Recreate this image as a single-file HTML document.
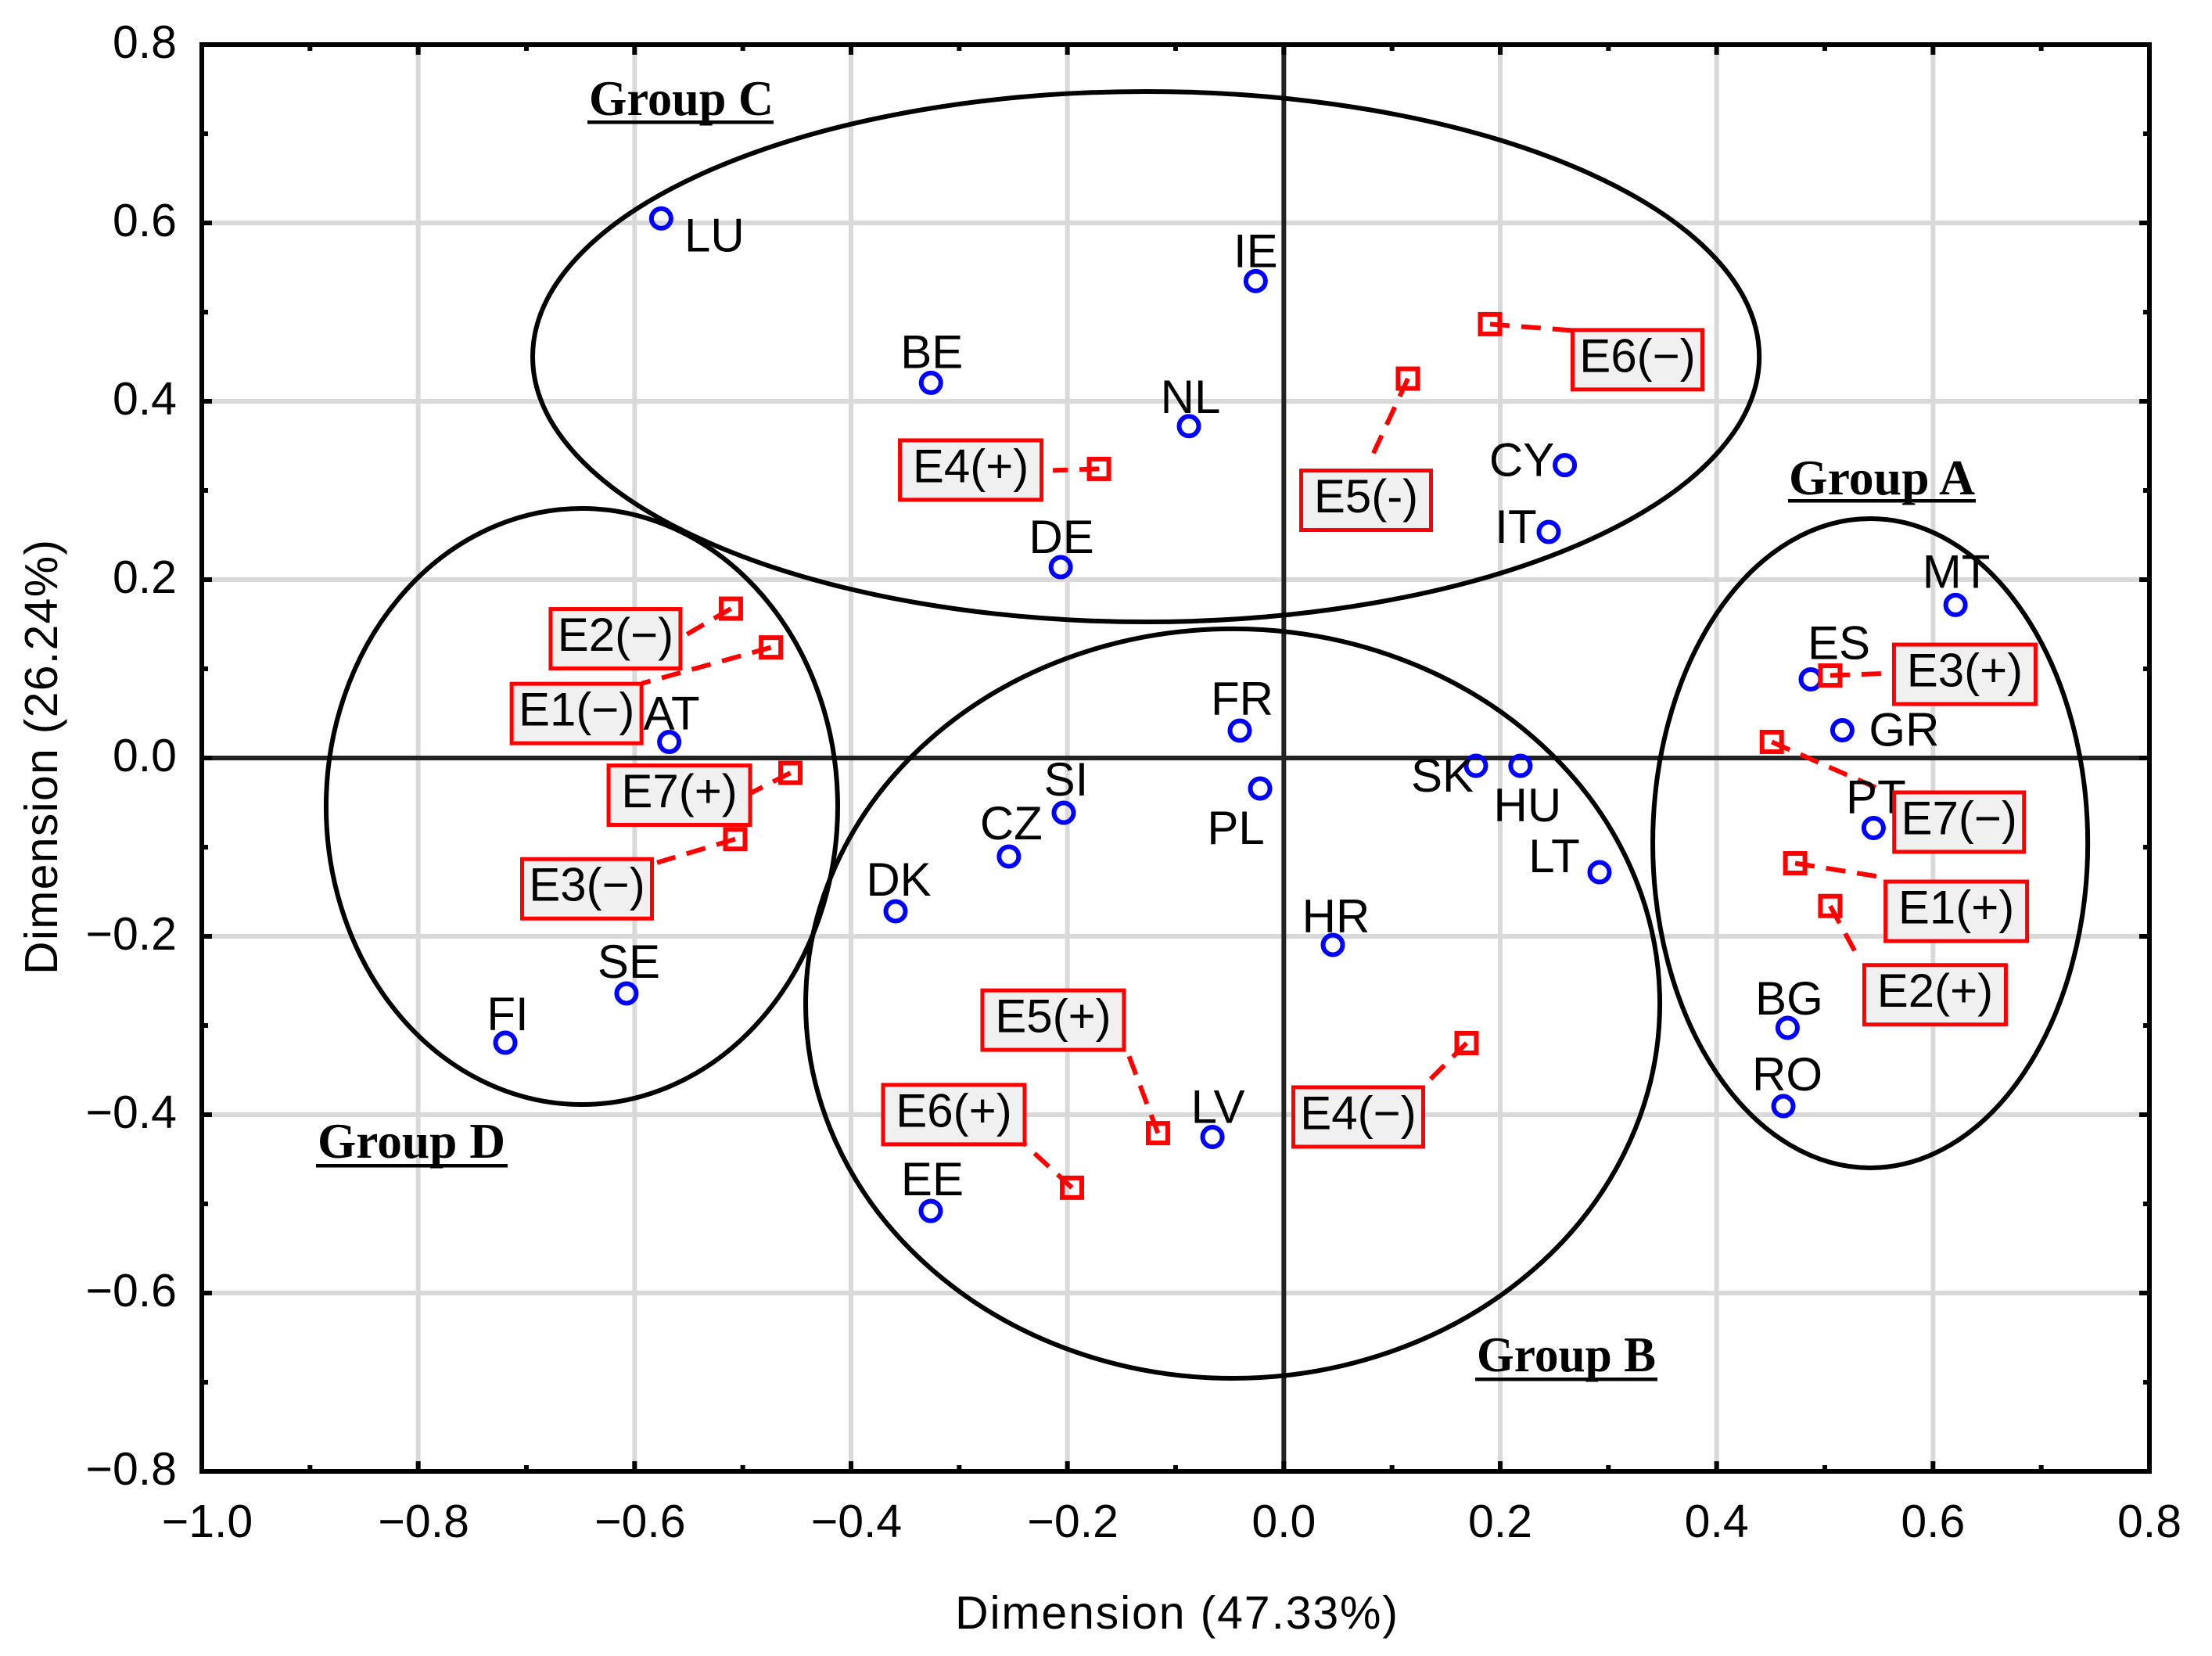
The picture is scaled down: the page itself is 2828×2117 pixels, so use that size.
<!DOCTYPE html>
<html lang="en">
<head>
<meta charset="utf-8">
<title>Correspondence analysis map</title>
<style>
html,body{margin:0;padding:0;background:#fff;}
svg{display:block;}
text{font-family:"Liberation Sans",Arial,sans-serif;fill:#000;}
.group-label{font-family:"Liberation Serif","Times New Roman",serif;font-weight:bold;font-size:63px;}
</style>
</head>
<body>
<svg id="chart" xmlns="http://www.w3.org/2000/svg" width="2828" height="2117" viewBox="0 0 2828 2117">
  <rect x="0" y="0" width="2828" height="2117" fill="#fff"/>
  <g id="grid"></g>
  <g id="zero"></g>
  <g id="ellipses"></g>
  <g id="leaders"></g>
  <g id="countries"></g>
  <g id="effects"></g>
  <g id="boxes"></g>
  <g id="frame"></g>
  <g id="ticklabels"></g>

  <text x="1504" y="2082" font-size="59" text-anchor="middle" textLength="566" lengthAdjust="spacing">Dimension (47.33%)</text>
  <text transform="translate(73 968) rotate(-90)" font-size="59" text-anchor="middle" textLength="556" lengthAdjust="spacing">Dimension (26.24%)</text>

  <g>
    <text class="group-label" x="2287" y="632" textLength="238" lengthAdjust="spacingAndGlyphs">Group A</text>
    <rect x="2286" y="638" width="240" height="4.5" fill="#000"/>
  </g>
  <g>
    <text class="group-label" x="1888" y="1753" textLength="229" lengthAdjust="spacingAndGlyphs">Group B</text>
    <rect x="1886" y="1761" width="233" height="4.5" fill="#000"/>
  </g>
  <g>
    <text class="group-label" x="753" y="147" textLength="236" lengthAdjust="spacingAndGlyphs">Group C</text>
    <rect x="751" y="154" width="238" height="4.5" fill="#000"/>
  </g>
  <g>
    <text class="group-label" x="406" y="1480" textLength="240" lengthAdjust="spacingAndGlyphs">Group D</text>
    <rect x="404" y="1488" width="245" height="4.5" fill="#000"/>
  </g>
</svg>
<script>
// ---- chart data ----
const xTickValues = [-1.0,-0.8,-0.6,-0.4,-0.2,0.0,0.2,0.4,0.6,0.8];
const xTickLabels = ["\u22121.0","\u22120.8","\u22120.6","\u22120.4","\u22120.2","0.0","0.2","0.4","0.6","0.8"];
const yTickValues = [0.8,0.6,0.4,0.2,0.0,-0.2,-0.4,-0.6,-0.8];
const yTickLabels = ["0.8","0.6","0.4","0.2","0.0","\u22120.2","\u22120.4","\u22120.6","\u22120.8"];

const countryCodes = ["LU","IE","BE","NL","CY","IT","DE","MT","ES","GR","AT","FR","SK","HU","PL","SI","PT","CZ","LT","DK","HR","SE","FI","BG","RO","LV","EE"];
const countryDim1 = [-0.5754,-0.0260,-0.3261,-0.0877,0.2597,0.2448,-0.2062,0.6208,0.4870,0.5162,-0.568,-0.0407,0.1776,0.2187,-0.0219,-0.2034,0.5451,-0.2541,0.2918,-0.3588,0.0453,-0.6075,-0.7195,0.4656,0.4617,-0.0660,-0.3263];
const countryDim2 = [0.605,0.5348,0.4207,0.3721,0.3284,0.2535,0.214,0.1716,0.0882,0.0311,0.018,0.0307,-0.0088,-0.0088,-0.0342,-0.0614,-0.0785,-0.1105,-0.1281,-0.1719,-0.2096,-0.264,-0.3193,-0.3026,-0.3904,-0.425,-0.508];

const effectNames = ["E1(\u2212)","E1(+)","E2(\u2212)","E2(+)","E3(\u2212)","E3(+)","E4(\u2212)","E4(+)","E5(-)","E5(+)","E6(\u2212)","E6(+)","E7(\u2212)","E7(+)"];
const effectDim1 = [-0.474,0.4726,-0.511,0.505,-0.507,0.505,0.1689,-0.1708,0.1147,-0.1163,0.1906,-0.1958,0.451,-0.456];
const effectDim2 = [0.124,-0.118,0.1675,-0.166,-0.091,0.0925,-0.3197,0.3242,0.4254,-0.4207,0.4865,-0.4819,0.018,-0.0167];

const groupNames = ["c","d","b","a"];
const groupCentreDim1 = [-0.1274,-0.6487,-0.0472,0.5420];
const groupCentreDim2 = [0.45,-0.0544,-0.2754,-0.0956];
const groupRadiusDim1 = [0.5668,0.2364,0.3947,0.2010];
const groupRadiusDim2 = [0.2974,0.3342,0.4202,0.3640];

// ---- axis functions ----
const plotLeft = 258, plotRight = 2748, plotTop = 57, plotBottom = 1881;
const xMin = -1.0, xMax = 0.8, yMin = -0.8, yMax = 0.8;
const xScale = (plotRight - plotLeft) / (xMax - xMin);
const yScale = (plotBottom - plotTop) / (yMax - yMin);
function xAxis(v) { return plotLeft + (v - xMin) * xScale; }
function yAxis(v) { return plotTop + (yMax - v) * yScale; }

// ---- annotation placement relative to marks (layout only) ----
function countryLabelShift(code) {
  switch (code) {
    case "LU": return {dx:68,dy:42};
    case "IE": return {dx:0,dy:-18};
    case "BE": return {dx:1,dy:-19};
    case "NL": return {dx:2,dy:-17};
    case "CY": return {dx:-55,dy:14};
    case "IT": return {dx:-42,dy:14};
    case "DE": return {dx:1,dy:-18};
    case "MT": return {dx:1,dy:-22};
    case "ES": return {dx:36,dy:-26};
    case "GR": return {dx:79,dy:20};
    case "AT": return {dx:3,dy:-16};
    case "FR": return {dx:3,dy:-20};
    case "SK": return {dx:-43,dy:33};
    case "HU": return {dx:9,dy:71};
    case "PL": return {dx:-31,dy:71};
    case "SI": return {dx:3,dy:-22};
    case "PT": return {dx:3,dy:-19};
    case "CZ": return {dx:3,dy:-22};
    case "LT": return {dx:-58,dy:0};
    case "DK": return {dx:4,dy:-20};
    case "HR": return {dx:4,dy:-16};
    case "SE": return {dx:3,dy:-20};
    case "FI": return {dx:3,dy:-16};
    case "BG": return {dx:2,dy:-17};
    case "RO": return {dx:5,dy:-20};
    case "LV": return {dx:7,dy:-18};
    default: return {dx:2,dy:-20};
  }
}
function effectLabelShift(name) {
  switch (name.slice(0,2) + (name.indexOf("+") >= 0 ? "p" : "m")) {
    case "E1m": return {bx:-334,by:44,ex:-165,ey:46};
    case "E1p": return {bx:113,by:21,ex:106,ey:17};
    case "E2m": return {bx:-233,by:-2,ex:-60,ey:35};
    case "E2p": return {bx:41,by:73,ex:36,ey:66};
    case "E3m": return {bx:-275,by:23,ex:-100,ey:30};
    case "E3p": return {bx:79,by:-42,ex:66,ey:-2.5};
    case "E4m": return {bx:-224,by:54,ex:-56,ey:56};
    case "E4p": return {bx:-257,by:-39,ex:-59,ey:2};
    case "E5m": return {bx:-139,by:115,ex:-49,ey:106};
    case "E5p": return {bx:-227,by:-185,ex:-38,ey:-101};
    case "E6m": return {bx:103,by:5,ex:104,ey:8};
    case "E6p": return {bx:-244,by:-134,ex:-60,ey:-55};
    case "E7m": return {bx:154,by:62,ex:146,ey:64};
    default:    return {bx:-235,by:-12,ex:-55,ey:28};
  }
}

// ---- drawing ----
const NS = "http://www.w3.org/2000/svg";
function make(parentId, tag, attrs) {
  const el = document.createElementNS(NS, tag);
  for (const k in attrs) el.setAttribute(k, attrs[k]);
  document.getElementById(parentId).appendChild(el);
  return el;
}

// gridlines
xTickValues.forEach(function (v) {
  if (v === 0 || v === xMin || v === xMax) return;
  const el = make("grid", "line", {x1:xAxis(v),x2:xAxis(v),y1:plotTop,y2:plotBottom,stroke:"#d9d9d9","stroke-width":6});
  
  
});
yTickValues.forEach(function (v) {
  if (v === 0 || v === yMin || v === yMax) return;
  const el = make("grid", "line", {x1:plotLeft,x2:plotRight,y1:yAxis(v),y2:yAxis(v),stroke:"#d9d9d9","stroke-width":6});
  
  
});

// zero lines
const zeroX = make("zero", "line", {x1:xAxis(0),x2:xAxis(0),y1:plotTop,y2:plotBottom,stroke:"#222","stroke-width":6});


const zeroY = make("zero", "line", {x1:plotLeft,x2:plotRight,y1:yAxis(0),y2:yAxis(0),stroke:"#222","stroke-width":6});



// group ellipses
groupNames.forEach(function (g, i) {
  const el = make("ellipses", "ellipse", {
    cx: xAxis(groupCentreDim1[i]), cy: yAxis(groupCentreDim2[i]),
    rx: groupRadiusDim1[i] * xScale, ry: groupRadiusDim2[i] * yScale,
    fill: "none", stroke: "#000", "stroke-width": 6
  });
  
  
});

// country points and labels
countryCodes.forEach(function (code, i) {
  const px = xAxis(countryDim1[i]), py = yAxis(countryDim2[i]);
  const s = countryLabelShift(code);
  const c = make("countries", "circle", {cx:px,cy:py,r:12.5,fill:"none",stroke:"#0000ff","stroke-width":6});
  
  
  const t = make("countries", "text", {x:px+s.dx,y:py+s.dy,"font-size":60,"text-anchor":"middle"});
  t.textContent = code;
  
  
});

// effect points, leaders and boxed labels
effectNames.forEach(function (name, i) {
  const px = xAxis(effectDim1[i]), py = yAxis(effectDim2[i]);
  const s = effectLabelShift(name);
  const slug = name.slice(0,2).toLowerCase() + (name.indexOf("+") >= 0 ? "-plus" : "-minus");
  const l = make("leaders", "line", {x1:px,y1:py,x2:px+s.ex,y2:py+s.ey,stroke:"#ff0000","stroke-width":6,"stroke-dasharray":"25 15"});
  
  
  const q = make("effects", "rect", {x:px-12.5,y:py-12.5,width:25,height:25,fill:"none",stroke:"#ff0000","stroke-width":6});
  
  
  const w = name.indexOf("+") >= 0 ? 186 : 171;
  const r = make("boxes", "rect", {x:px+s.bx+2.5,y:py+s.by+2.5,width:w-5,height:76,fill:"#f0f0f0",stroke:"#ff0000","stroke-width":5});
  
  
  const t = make("boxes", "text", {x:px+s.bx+w/2,y:py+s.by+56,"font-size":60,"text-anchor":"middle"});
  t.textContent = name;
  
  
});

// frame and ticks
const frame = make("frame", "rect", {x:plotLeft,y:plotTop,width:plotRight-plotLeft,height:plotBottom-plotTop,fill:"none",stroke:"#000","stroke-width":6});


function tick(x1, y1, x2, y2, w) {
  const el = make("frame", "line", {x1:x1,y1:y1,x2:x2,y2:y2,stroke:"#000","stroke-width":w});
  
  
}
xTickValues.forEach(function (v, i) {
  const x = xAxis(v);
  tick(x, plotTop, x, plotTop + 13, 6);
  tick(x, plotBottom, x, plotBottom - 13, 6);
  if (i < xTickValues.length - 1) {
    const m = (x + xAxis(xTickValues[i + 1])) / 2;
    tick(m, plotTop, m, plotTop + 8, 6);
    tick(m, plotBottom, m, plotBottom - 8, 6);
  }
});
yTickValues.forEach(function (v, i) {
  const y = yAxis(v);
  tick(plotLeft, y, plotLeft + 13, y, 6);
  tick(plotRight, y, plotRight - 13, y, 6);
  if (i < yTickValues.length - 1) {
    const m = (y + yAxis(yTickValues[i + 1])) / 2;
    tick(plotLeft, m, plotLeft + 8, m, 6);
    tick(plotRight, m, plotRight - 8, m, 6);
  }
});

// tick labels
xTickValues.forEach(function (v, i) {
  const shift = v < 0 ? 7 : 0;
  const t = make("ticklabels", "text", {x:xAxis(v)+shift,y:1965,"font-size":59,"text-anchor":"middle"});
  t.textContent = xTickLabels[i];
  
  
});
yTickValues.forEach(function (v, i) {
  const t = make("ticklabels", "text", {x:226,y:yAxis(v)+17,"font-size":59,"text-anchor":"end"});
  t.textContent = yTickLabels[i];
  
  
});
</script>
</body>
</html>
